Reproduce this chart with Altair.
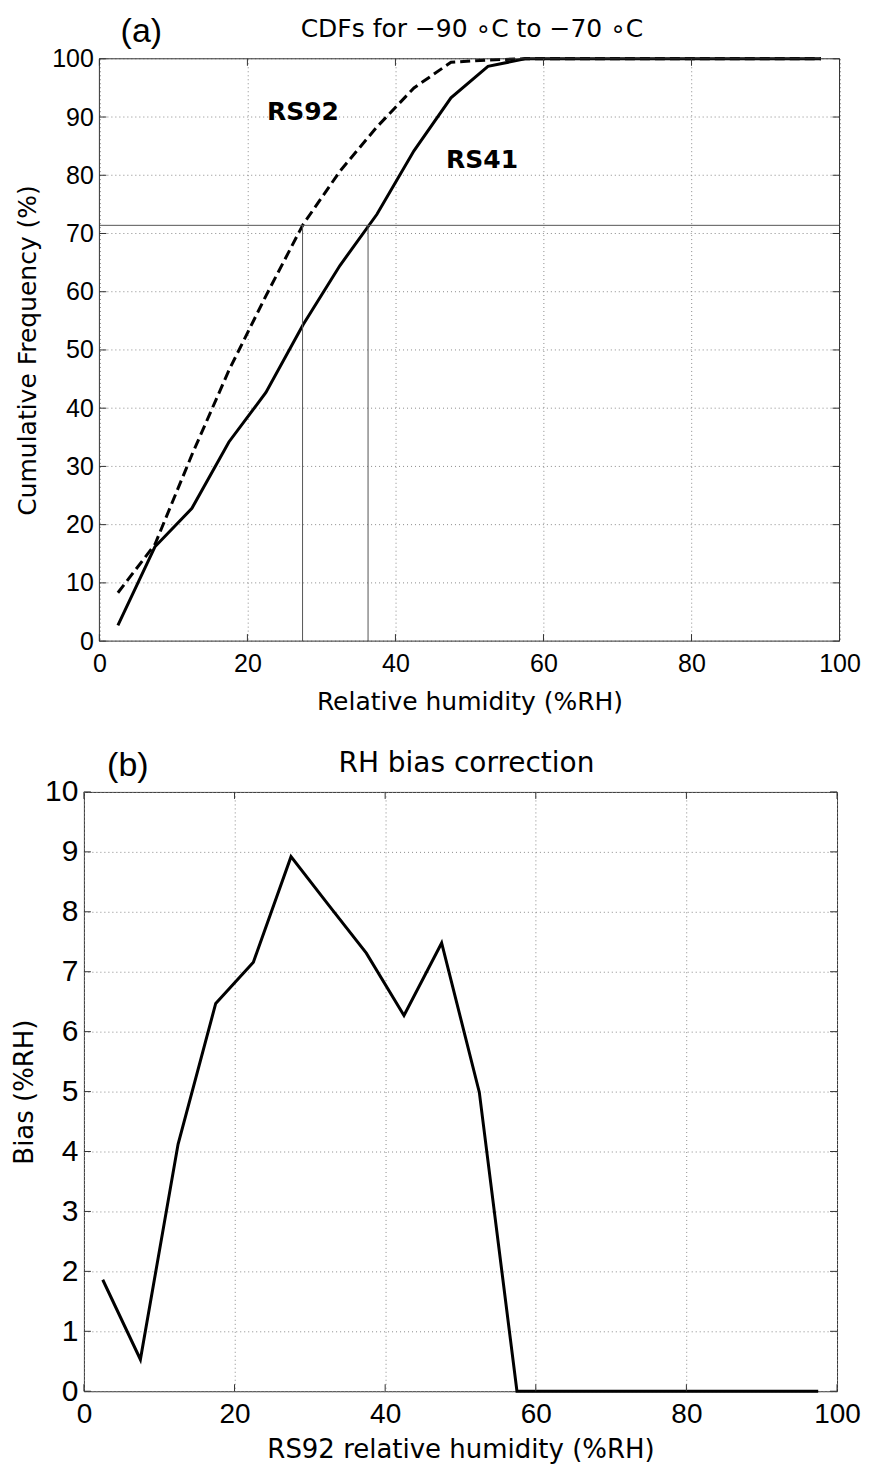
import altair as alt
import pandas as pd

# ---------------- data ----------------
rh_bins = [2.5, 7.5, 12.5, 17.5, 22.5, 27.5, 32.5, 37.5, 42.5, 47.5,
           52.5, 57.5, 62.5, 67.5, 72.5, 77.5, 82.5, 87.5, 92.5, 97.5]
rs41_cdf = [2.7, 16.2, 22.8, 34.2, 42.7, 54.3, 64.5, 73.3, 84.2, 93.3,
            98.7, 100, 100, 100, 100, 100, 100, 100, 100, 100]
rs92_cdf = [8.3, 16.6, 32.0, 46.5, 59.3, 71.5, 80.7, 88.3, 95.0, 99.4,
            99.8, 100, 100, 100, 100, 100, 100, 100, 100, 100]
bias = [1.86, 0.53, 4.12, 6.47, 7.16, 8.92, 8.11, 7.31, 6.27, 7.48,
        4.99, 0, 0, 0, 0, 0, 0, 0, 0, 0]

cdf_level = 71.4
level_x = [27.45, 36.3]

label_text = ["RS92", "RS41"]
label_x = [27.5, 51.7]
label_y = [90.9, 82.6]

x_ticks = [0, 20, 40, 60, 80, 100]
ya_ticks = [0, 10, 20, 30, 40, 50, 60, 70, 80, 90, 100]
yb_ticks = [0, 1, 2, 3, 4, 5, 6, 7, 8, 9, 10]

title_a = "CDFs for \u221290 \u2218C to \u221270 \u2218C"
title_b = "RH bias correction"

# ---------------- styles ----------------
SHIFT_A = 15.5            # panel (a) plot starts this far right of panel (b)
W_A, H_A = 756.5, 583
W_B, H_B = 754, 600
TICK = 7
FRAME = "#333333"
GRID = "#8a8a8a"
LABEL_FONT = "Liberation Sans"
TITLE_FONT = "DejaVu Sans"


def axis(values, title, lsize, tsize, lpad, tpad, grid=True, offset=0):
    return alt.Axis(values=values, title=title, format="d", grid=grid,
                    gridDash=[1, 3], gridColor=GRID, gridWidth=1,
                    ticks=False, tickSize=0, domain=False, offset=offset,
                    labelFont=LABEL_FONT, labelFontSize=lsize,
                    labelColor="black", labelPadding=lpad, labelFlush=False,
                    labelOverlap=False, titleFont=TITLE_FONT, titleFontSize=tsize,
                    titleFontWeight="normal", titleColor="black", titlePadding=tpad)


def rules(df, **enc):
    return alt.Chart(df).mark_rule(color=FRAME, strokeWidth=1).encode(**enc)


def text_at(txt, px, py, size, font):
    return alt.Chart(pd.DataFrame({"t": [txt]})).mark_text(
        font=font, fontSize=size, color="black", align="center",
        baseline="alphabetic").encode(text="t:N", x=alt.value(px), y=alt.value(py))


# ---------------- panel (a) ----------------
df41 = pd.DataFrame({"x": rh_bins, "y": rs41_cdf})
df92 = pd.DataFrame({"x": rh_bins, "y": rs92_cdf})

xa = alt.X("x:Q", scale=alt.Scale(domain=[0, 100], nice=False, range=[SHIFT_A, W_A]),
           axis=axis(x_ticks, "Relative humidity (%RH)", 25, 25, 10, 13))
ya = alt.Y("y:Q", scale=alt.Scale(domain=[0, 100], nice=False),
           axis=axis(ya_ticks, "Cumulative Frequency (%)", 25, 25, 6, 11,
                     grid=False, offset=-SHIFT_A))

grid_a = alt.Chart(pd.DataFrame({"y": ya_ticks})).mark_rule(
    color=GRID, strokeWidth=1, strokeDash=[1, 3]).encode(
    y="y:Q", x=alt.datum(0), x2=alt.datum(100))

line41 = alt.Chart(df41).mark_line(color="black", strokeWidth=3).encode(x=xa, y=ya)
line92 = alt.Chart(df92).mark_line(color="black", strokeWidth=3,
                                   strokeDash=[10, 5]).encode(x="x:Q", y="y:Q")

hline = alt.Chart(pd.DataFrame({"y": [cdf_level]})).mark_rule(
    color="#555555", strokeWidth=1).encode(y="y:Q", x=alt.datum(0), x2=alt.datum(100))
vlines = alt.Chart(pd.DataFrame({"x": level_x, "y": [0, 0],
                                 "y2": [cdf_level, cdf_level]})).mark_rule(
    color="#555555", strokeWidth=1).encode(x="x:Q", y="y:Q", y2="y2:Q")

labels = alt.Chart(pd.DataFrame({"x": label_x, "y": label_y, "t": label_text})).mark_text(
    font="DejaVu Sans", fontSize=25, fontWeight="bold", color="black",
    align="center", baseline="middle").encode(x="x:Q", y="y:Q", text="t:N")

frame_a = rules(pd.DataFrame({"x": [0, 0, 0, 100], "x2": [100, 100, 0, 100],
                              "y": [0, 100, 0, 0], "y2": [0, 100, 100, 100]}),
                x="x:Q", x2="x2:Q", y="y:Q", y2="y2:Q")
dxa = pd.DataFrame({"x": x_ticks})
dya = pd.DataFrame({"y": ya_ticks})
ticks_a = [
    rules(dxa, x="x:Q", y=alt.value(H_A), y2=alt.value(H_A - TICK)),
    rules(dxa, x="x:Q", y=alt.value(0), y2=alt.value(TICK)),
    rules(dya, y="y:Q", x=alt.value(SHIFT_A), x2=alt.value(SHIFT_A + TICK)),
    rules(dya, y="y:Q", x=alt.value(W_A), x2=alt.value(W_A - TICK)),
]

panel_a = alt.layer(
    grid_a, line41, line92, hline, vlines, labels, frame_a, *ticks_a,
    text_at("(a)", SHIFT_A + 42, -17, 34, LABEL_FONT),
    text_at(title_a, SHIFT_A + 373, -22, 25, TITLE_FONT),
).properties(width=W_A, height=H_A, view=alt.ViewBackground(strokeOpacity=0))

# ---------------- panel (b) ----------------
dfb = pd.DataFrame({"x": rh_bins, "y": bias})
xb = alt.X("x:Q", scale=alt.Scale(domain=[0, 100], nice=False),
           axis=axis(x_ticks, "RS92 relative humidity (%RH)", 28, 26, 9, 8))
yb = alt.Y("y:Q", scale=alt.Scale(domain=[0, 10], nice=False),
           axis=axis(yb_ticks, "Bias (%RH)", 30, 26, 6, 7))

lineb = alt.Chart(dfb).mark_line(color="black", strokeWidth=3).encode(x=xb, y=yb)

dxb = pd.DataFrame({"x": x_ticks})
dyb = pd.DataFrame({"y": yb_ticks})
ticks_b = [
    rules(dxb, x="x:Q", y=alt.value(H_B), y2=alt.value(H_B - TICK)),
    rules(dxb, x="x:Q", y=alt.value(0), y2=alt.value(TICK)),
    rules(dyb, y="y:Q", x=alt.value(0), x2=alt.value(TICK)),
    rules(dyb, y="y:Q", x=alt.value(W_B), x2=alt.value(W_B - TICK)),
]

panel_b = alt.layer(
    lineb, *ticks_b,
    text_at("(b)", 44, -16, 34, LABEL_FONT),
    text_at(title_b, 383, -20, 28, TITLE_FONT),
).properties(width=W_B, height=H_B,
             view=alt.ViewBackground(stroke=FRAME, strokeWidth=1))

chart = alt.vconcat(panel_a, panel_b, spacing=34).properties(
    padding={"left": 3, "top": 6, "right": 0, "bottom": 0}
).configure(background="white")

chart.save("out.html", embed_options={"renderer": "svg", "actions": False})
